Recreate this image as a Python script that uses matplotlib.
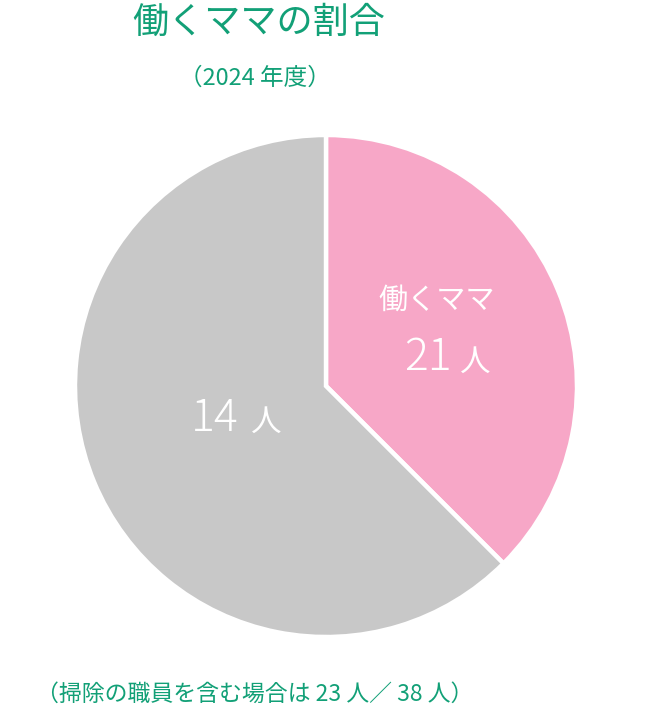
import matplotlib
matplotlib.use("Agg")
import matplotlib.pyplot as plt

plt.rcParams['font.family'] = ['Noto Sans CJK JP', 'DejaVu Sans']

# Data (shares; labels as printed)
categories = ["働くママ", "その他"]
shares = [37.5, 62.5]
count_labels = ["21", "14"]
colors = ["#F7A7C7", "#C8C8C8"]

title = "働くママの割合"
subtitle = "（2024 年度）"
footnote = "（掃除の職員を含む場合は 23 人／ 38 人）"
green = "#12A077"

W, H = 650, 708
fig = plt.figure(figsize=(W / 100, H / 100), dpi=100)

cx, cy, r = 326, 386, 251
ax = fig.add_axes([(cx - r) / W, (H - cy - r) / H, 2 * r / W, 2 * r / H])
ax.pie(shares, colors=colors, startangle=90, counterclock=False, radius=1.0,
       wedgeprops=dict(edgecolor="white", linewidth=3.2))
ax.set_xlim(-1, 1)
ax.set_ylim(-1, 1)
ax.set_aspect('equal')
ax.axis('off')

def px(x, y):
    return x / W, 1 - y / H

fig.text(*px(259, 23), title, color=green, fontsize=26, ha='center', va='center')
fig.text(*px(255, 78), subtitle, color=green, fontsize=17, ha='center', va='center')
fig.text(*px(255, 694), footnote, color=green, fontsize=16.5, ha='center', va='center')

# labels inside slices
fig.text(*px(437, 301), categories[0], color='white', fontsize=21, ha='center', va='center')
fig.text(*px(428, 358), count_labels[0], color='white', fontsize=32, ha='center', va='center',
         fontweight='light')
fig.text(*px(475, 362), "人", color='white', fontsize=22, ha='center', va='center')
fig.text(*px(215, 418), count_labels[1], color='white', fontsize=32, ha='center', va='center',
         fontweight='light')
fig.text(*px(266, 422), "人", color='white', fontsize=22, ha='center', va='center')

fig.savefig("out.png", dpi=100, facecolor='white')
